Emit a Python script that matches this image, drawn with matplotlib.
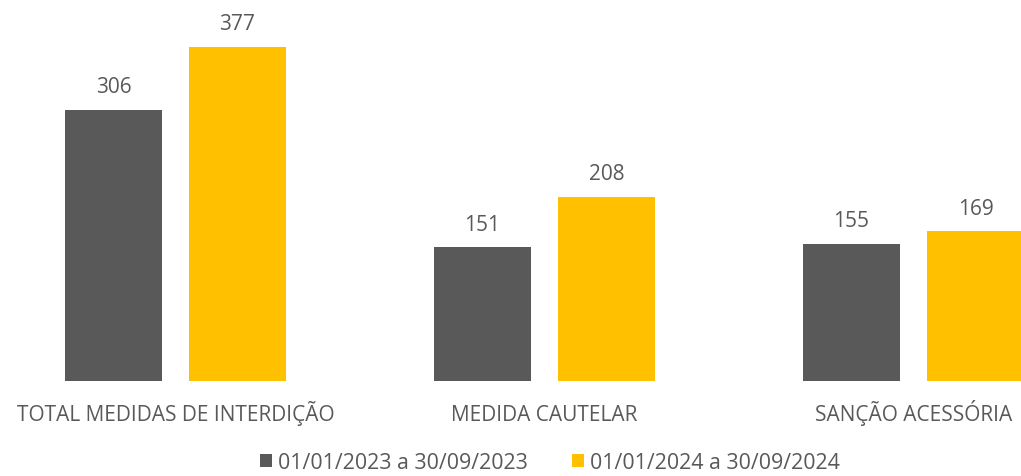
import matplotlib
matplotlib.use("Agg")
import matplotlib.pyplot as plt
import numpy as np

categorias = ["TOTAL MEDIDAS DE INTERDIÇÃO", "MEDIDA CAUTELAR", "SANÇÃO ACESSÓRIA"]
periodo_2023 = [306, 151, 155]
periodo_2024 = [377, 208, 169]
legenda = ["01/01/2023 a 30/09/2023", "01/01/2024 a 30/09/2024"]

cinza = "#595959"
amarelo = "#FFC000"
texto = "#595959"

plt.rcParams['font.family'] = ['Open Sans', 'DejaVu Sans']

fig = plt.figure(figsize=(10.21, 4.77), dpi=100)
# eixo ocupa toda a largura, base das barras em y=382px
ax = fig.add_axes([0, (477 - 382) / 477, 1, 382 / 477])

x = np.arange(len(categorias))
largura = 0.263
desloc = 0.168

b1 = ax.bar(x - desloc, periodo_2023, largura, color=cinza, label=legenda[0])
b2 = ax.bar(x + desloc, periodo_2024, largura, color=amarelo, label=legenda[1])

for barras in (b1, b2):
    for b in barras:
        ax.annotate(str(int(b.get_height())),
                    (b.get_x() + b.get_width() / 2, b.get_height()),
                    xytext=(0, 9), textcoords="offset points",
                    ha="center", va="bottom", fontsize=15, color=texto)

ax.set_xlim((0 - 175.5) / 369, (1021 - 175.5) / 369)
ax.set_ylim(0, 431)
ax.set_xticks(x)
ax.set_xticklabels([])
ax.tick_params(axis="x", length=0)
ax.set_yticks([])
for s in ax.spines.values():
    s.set_visible(False)

# rótulos das categorias com linha de base comum
for xi, nome in zip(x, categorias):
    ax.annotate(nome, (xi, 0), xycoords=("data", "axes fraction"),
                xytext=(0, -28.3), textcoords="offset points",
                ha="center", va="baseline", fontsize=15, color=texto)

fig.legend(handles=[b1, b2], labels=legenda, loc="center", ncol=2,
           bbox_to_anchor=(550 / 1021, 1 - 464 / 477), frameon=False,
           borderpad=0.1, fontsize=15.4, labelcolor=texto,
           handlelength=0.56, handleheight=0.56,
           handletextpad=0.25, columnspacing=2.1)

fig.savefig("out.png", dpi=100)
